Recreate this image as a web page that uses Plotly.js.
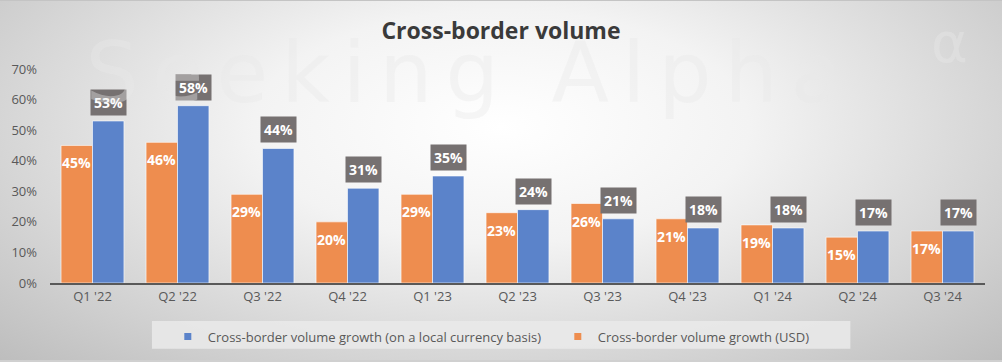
<!DOCTYPE html>
<html>
<head>
<meta charset="utf-8">
<script src="https://cdn.plot.ly/plotly-3.0.1.min.js"></script>
<style>
  html, body { margin: 0; padding: 0; }
  #chart {
    width: 1002px; height: 362px;
    background: radial-gradient(ellipse farthest-corner at 50% 35%, #ffffff 0%, #f3f3f3 35%, #bdbdbd 100%);
    box-shadow: inset 0 1px 0 #c4c4c4, inset 0 -2px 0 #d0d0d0;
  }
  .wm text { letter-spacing: 13px; }
</style>
</head>
<body>
<div id="chart"></div>
<script>
const categories = ["Q1 '22", "Q2 '22", "Q3 '22", "Q4 '22", "Q1 '23", "Q2 '23", "Q3 '23", "Q4 '23", "Q1 '24", "Q2 '24", "Q3 '24"];
const usdGrowth = [45, 46, 29, 20, 29, 23, 26, 21, 19, 15, 17];
const localGrowth = [53, 58, 44, 31, 35, 24, 21, 18, 18, 17, 17];
const yTickVals = [0, 10, 20, 30, 40, 50, 60, 70];
const yTickText = yTickVals.map(v => v + "%");
const usdName = "Cross-border volume growth (USD)";
const localName = "Cross-border volume growth (on a local currency basis)";
const usdColor = "#EE8D4F";
const localColor = "#5B83CA";

const bargap = 0.26;
const labelFont = {family: "Open Sans", size: 14, color: "#ffffff", weight: 700};
const wmColor = "rgba(232,232,232,0.4)";

const traces = [
  {
    type: "bar", name: usdName, x: categories, y: usdGrowth, showlegend: false,
    marker: {color: usdColor, line: {color: "rgba(255,255,255,0.6)", width: 1}},
    hoverinfo: "skip"
  },
  {
    type: "bar", name: localName, x: categories, y: localGrowth, showlegend: false,
    marker: {color: localColor, line: {color: "rgba(255,255,255,0.6)", width: 1}},
    hoverinfo: "skip"
  },
  {
    type: "scatter", mode: "markers", name: localName, x: [null], y: [null],
    marker: {symbol: "square", size: 7, color: localColor}, hoverinfo: "skip"
  },
  {
    type: "scatter", mode: "markers", name: usdName, x: [null], y: [null],
    marker: {symbol: "square", size: 7, color: usdColor}, hoverinfo: "skip"
  }
];

const annotations = [];
usdGrowth.forEach((v, i) => annotations.push({
  x: i - (1 - bargap) / 4, y: v, xref: "x", yref: "y",
  text: v + "%", showarrow: false, yanchor: "top", yshift: -7,
  font: labelFont, borderpad: 0
}));
localGrowth.forEach((v, i) => annotations.push({
  x: i + (1 - bargap) / 4, y: v, xref: "x", yref: "y",
  text: v + "%", showarrow: false, yanchor: "bottom", yshift: 5,
  font: labelFont, bgcolor: "#767171", borderpad: 3
}));

annotations.push({
  xref: "paper", yref: "paper", x: 0.45, y: 0.98,
  text: "Seeking Alpha", showarrow: false, xanchor: "center", yanchor: "middle",
  font: {family: "DejaVu Sans", size: 84, color: wmColor}
});
annotations.push({
  xref: "paper", yref: "paper", x: 0.962, y: 1.125,
  text: "α", showarrow: false, xanchor: "center", yanchor: "middle",
  font: {family: "DejaVu Sans", size: 56, color: wmColor}
});

const layout = {
  width: 1002, height: 362,
  paper_bgcolor: "rgba(0,0,0,0)", plot_bgcolor: "rgba(0,0,0,0)",
  margin: {l: 50, r: 17, t: 69, b: 78},
  title: {text: "Cross-border volume", x: 0.5, xanchor: "center", y: 0.915, yanchor: "middle",
          font: {family: "Open Sans", size: 23, color: "#3a3a3a", weight: 700}},
  barmode: "group", bargap: bargap, bargroupgap: 0,
  showlegend: true,
  legend: {orientation: "h", x: 0.126, xanchor: "left", y: -0.175, yanchor: "top",
           bgcolor: "rgba(0,0,0,0)", itemwidth: 30, entrywidth: 345,
           font: {family: "Open Sans", size: 13, color: "#595959"}},
  shapes: [{
    type: "rect", xref: "paper", yref: "paper", layer: "below",
    x0: 0.109, x1: 0.856, y0: -0.177, y1: -0.307,
    fillcolor: "rgba(234,234,234,0.85)", line: {width: 0}
  }],
  xaxis: {type: "category", showline: true, linecolor: "#595959", linewidth: 2,
          showgrid: false, ticks: "", tickfont: {family: "Open Sans", size: 13, color: "#595959"}},
  yaxis: {range: [0, 70], tickvals: yTickVals, ticktext: yTickText, showgrid: false, zeroline: false,
          showline: false, ticks: "", ticklabelstandoff: 12,
          tickfont: {family: "Open Sans", size: 13, color: "#595959"}},
  annotations: annotations
};

Plotly.newPlot("chart", traces, layout, {displayModeBar: false, staticPlot: true}).then(gd => {
  const n = annotations.length;
  const el = gd.querySelector('.annotation[data-index="' + (n - 2) + '"]');
  if (el) el.classList.add("wm");
});
</script>
</body>
</html>
